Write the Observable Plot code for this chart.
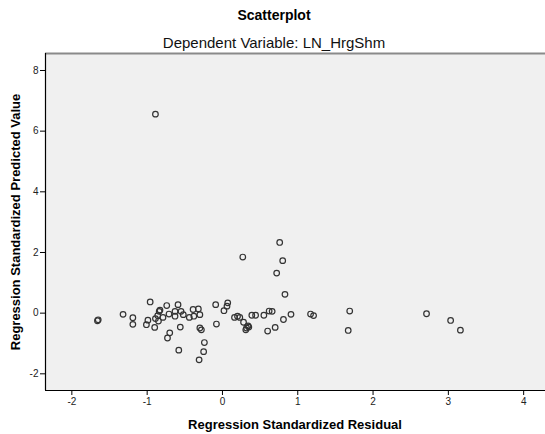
<!DOCTYPE html>
<html>
<head>
<meta charset="utf-8">
<script src="https://cdn.jsdelivr.net/npm/d3@7"></script>
<script src="https://cdn.jsdelivr.net/npm/@observablehq/plot@0.6"></script>
<style>
  body { margin: 0; background: #fff; font-family: "Liberation Sans", Arial, sans-serif; }
  #wrap { position: relative; width: 545px; height: 434px; overflow: hidden; }
  .t { position: absolute; white-space: nowrap; color: #000; }
</style>
</head>
<body>
<div id="wrap">
  <div class="t" id="title" style="left:0;width:548px;text-align:center;top:7px;font-size:14px;font-weight:bold;">Scatterplot</div>
  <div class="t" id="subtitle" style="left:0;width:548px;text-align:center;top:34px;font-size:15px;color:#111;">Dependent Variable: LN_HrgShm</div>
  <div class="t" id="xlabel" style="left:45px;width:500px;text-align:center;top:417px;font-size:13px;font-weight:bold;">Regression Standardized Residual</div>
  <div class="t" id="ylabel" style="left:15px;top:222px;font-size:13px;font-weight:bold;transform:translate(-50%,-50%) rotate(-90deg);">Regression Standardized Predicted Value</div>
</div>
<script>
const residual = [
  -1.65, -1.66, -1.32, -1.19, -1.19, -0.96, -0.99, -1.01, -0.89, -0.90,
  -0.84, -0.83, -0.86, -0.85, -0.79, -0.74, -0.71, -0.70, -0.73, -0.63,
  -0.63, -0.59, -0.55, -0.52, -0.56, -0.58, -0.44, -0.39, -0.38, -0.32,
  -0.30, -0.30, -0.28, -0.24, -0.25, -0.31, -0.09, -0.08, 0.02, 0.07,
  0.06, 0.16, 0.20, 0.23, 0.28, 0.32, 0.34, 0.35, 0.31, 0.39,
  0.44, 0.55, 0.62, 0.66, 0.60, 0.70, 0.81, 0.91, 1.17, 1.21,
  1.69, 1.67, 2.71, 3.03, 3.16, -0.89, 0.27, 0.76, 0.80, 0.72,
  0.83
];
const predicted = [
  -0.22, -0.25, -0.04, -0.15, -0.37, 0.37, -0.23, -0.38, -0.18, -0.47,
  0.06, 0.10, -0.08, -0.26, -0.14, 0.25, -0.03, -0.65, -0.82, 0.06,
  -0.10, 0.28, 0.06, -0.05, -0.46, -1.22, -0.14, 0.12, -0.10, 0.14,
  -0.05, -0.49, -0.55, -0.97, -1.27, -1.54, 0.28, -0.36, 0.08, 0.34,
  0.23, -0.14, -0.10, -0.14, -0.30, -0.49, -0.42, -0.46, -0.55, -0.07,
  -0.07, -0.07, 0.07, 0.06, -0.59, -0.47, -0.21, -0.04, -0.03, -0.08,
  0.07, -0.57, -0.02, -0.24, -0.56, 6.56, 1.85, 2.33, 1.73, 1.32,
  0.62
];
const xTicks = [-2, -1, 0, 1, 2, 3, 4];
const yTicks = [-2, 0, 2, 4, 6, 8];
const xDomain = [-2.35, 4.29];
const yDomain = [-2.55, 8.56];

const data = residual.map((r, i) => ({x: r, y: predicted[i]}));
const fmt = d => String(d);

const chart = Plot.plot({
  width: 545,
  height: 434,
  marginLeft: 45,
  marginRight: 0,
  marginTop: 53,
  marginBottom: 44,
  style: {fontFamily: "'Liberation Sans', Arial, sans-serif", fontSize: "10px", background: "transparent", overflow: "visible"},
  x: {domain: xDomain, ticks: xTicks, label: null},
  y: {domain: yDomain, ticks: yTicks, label: null},
  marks: [
    Plot.frame({fill: "#f0f0f0", stroke: null}),
    Plot.ruleY([yDomain[1]], {stroke: "#8a8a8a", strokeWidth: 2}),
    Plot.ruleY([yDomain[0]], {stroke: "#000", strokeWidth: 1.2}),
    Plot.ruleX([xDomain[0]], {stroke: "#000", strokeWidth: 1.2}),
    Plot.axisX({ticks: xTicks, tickFormat: fmt, tickSize: 5, tickPadding: 2, fill: "#222", stroke: "#000", label: null}),
    Plot.axisY({ticks: yTicks, tickFormat: fmt, tickSize: 5, tickPadding: 2, fill: "#222", stroke: "#000", label: null}),
    Plot.dot(data, {x: "x", y: "y", r: 2.8, stroke: "#333", strokeWidth: 1.2, fill: "none"})
  ]
});
chart.style.position = "absolute";
chart.style.left = "0";
chart.style.top = "0";
document.getElementById("wrap").prepend(chart);
</script>
</body>
</html>
